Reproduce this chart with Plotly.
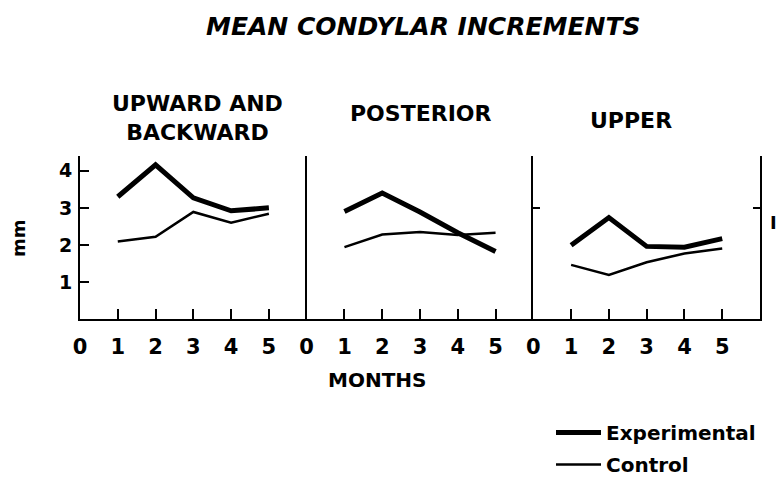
import plotly.graph_objects as go
from plotly.subplots import make_subplots

# ---- data ----
months = [1, 2, 3, 4, 5]
panels = ["UPWARD AND<br>BACKWARD", "POSTERIOR", "UPPER"]
experimental = [
    [3.30, 4.16, 3.27, 2.92, 3.00],   # upward and backward
    [2.90, 3.40, 2.89, 2.33, 1.82],   # posterior
    [1.99, 2.74, 1.96, 1.94, 2.17],   # upper
]
control = [
    [2.09, 2.22, 2.89, 2.60, 2.84],
    [1.94, 2.28, 2.35, 2.27, 2.33],
    [1.46, 1.19, 1.53, 1.77, 1.90],
]
x_ticks = [0, 1, 2, 3, 4, 5]
y_ticks = [1, 2, 3, 4]

# ---- geometry ----
W, H = 779, 479
L, R, T, B = 80, 19, 156, 160
FONT = "DejaVu Sans"


def px(xp):
    return (xp - L) / (W - L - R)


def py(yp):
    return (H - B - yp) / (H - T - B)


fig = make_subplots(rows=1, cols=3, horizontal_spacing=0)

for i in range(3):
    fig.add_trace(go.Scatter(
        x=months, y=experimental[i], mode="lines",
        line=dict(color="black", width=5),
        name="Experimental", legendgroup="exp", showlegend=(i == 0)),
        row=1, col=i + 1)
    fig.add_trace(go.Scatter(
        x=months, y=control[i], mode="lines",
        line=dict(color="black", width=2.5),
        name="Control", legendgroup="ctl", showlegend=(i == 0)),
        row=1, col=i + 1)

for i in range(3):
    fig.update_xaxes(range=[0, 6], tickvals=x_ticks, ticktext=[str(v) for v in x_ticks],
                     ticks="inside", ticklen=10, tickwidth=2, tickcolor="black",
                     showline=True, linecolor="black", linewidth=2,
                     showgrid=False, zeroline=False, ticklabelstandoff=8,
                     tickfont=dict(family=FONT, size=21, color="black", weight="bold"),
                     row=1, col=i + 1)

fig.update_yaxes(range=[0, 4.4], showgrid=False, zeroline=False,
                 showline=True, linecolor="black", linewidth=2)
fig.update_yaxes(tickvals=y_ticks, ticks="inside", ticklen=9, tickwidth=2,
                 tickcolor="black", ticklabelstandoff=2,
                 tickfont=dict(family=FONT, size=19, color="black", weight="bold"),
                 row=1, col=1)
fig.update_yaxes(tickvals=[], showticklabels=False, row=1, col=2)
fig.update_yaxes(tickvals=[3], showticklabels=False, ticks="inside", ticklen=7,
                 tickwidth=2, tickcolor="black", mirror="ticks", row=1, col=3)

bold = dict(family=FONT, color="black", weight="bold")
panel_pos = [(197, 118), (421, 113), (631, 121)]
ann = [
    dict(text="MEAN CONDYLAR INCREMENTS", x=px(423), y=py(26),
         font=dict(size=25, style="italic", **bold)),
    dict(text="MONTHS", x=px(377), y=py(380), font=dict(size=20, **bold)),
    dict(text="mm", x=px(18), y=py(238), textangle=-90, font=dict(size=18, **bold)),
    dict(text="I", x=px(773), y=py(222), font=dict(size=18, **bold)),
]
for name, (xp, yp) in zip(panels, panel_pos):
    ann.append(dict(text=name, x=px(xp), y=py(yp), font=dict(size=22, **bold)))
for a in ann:
    a.update(xref="paper", yref="paper", showarrow=False,
             xanchor="center", yanchor="middle")

fig.update_layout(
    width=W, height=H,
    margin=dict(l=L, r=R, t=T, b=B, autoexpand=False),
    paper_bgcolor="white", plot_bgcolor="white",
    annotations=ann,
    showlegend=True,
    legend=dict(x=px(551), y=py(413), xanchor="left", yanchor="top",
                bgcolor="rgba(0,0,0,0)", borderwidth=0,
                font=dict(size=20, **bold), itemwidth=45,
                tracegroupgap=3),
)

fig.write_html("out.html",
               config={"displayModeBar": False},
               post_script="document.body.style.margin='0';"
                           "document.body.style.overflow='hidden';")
